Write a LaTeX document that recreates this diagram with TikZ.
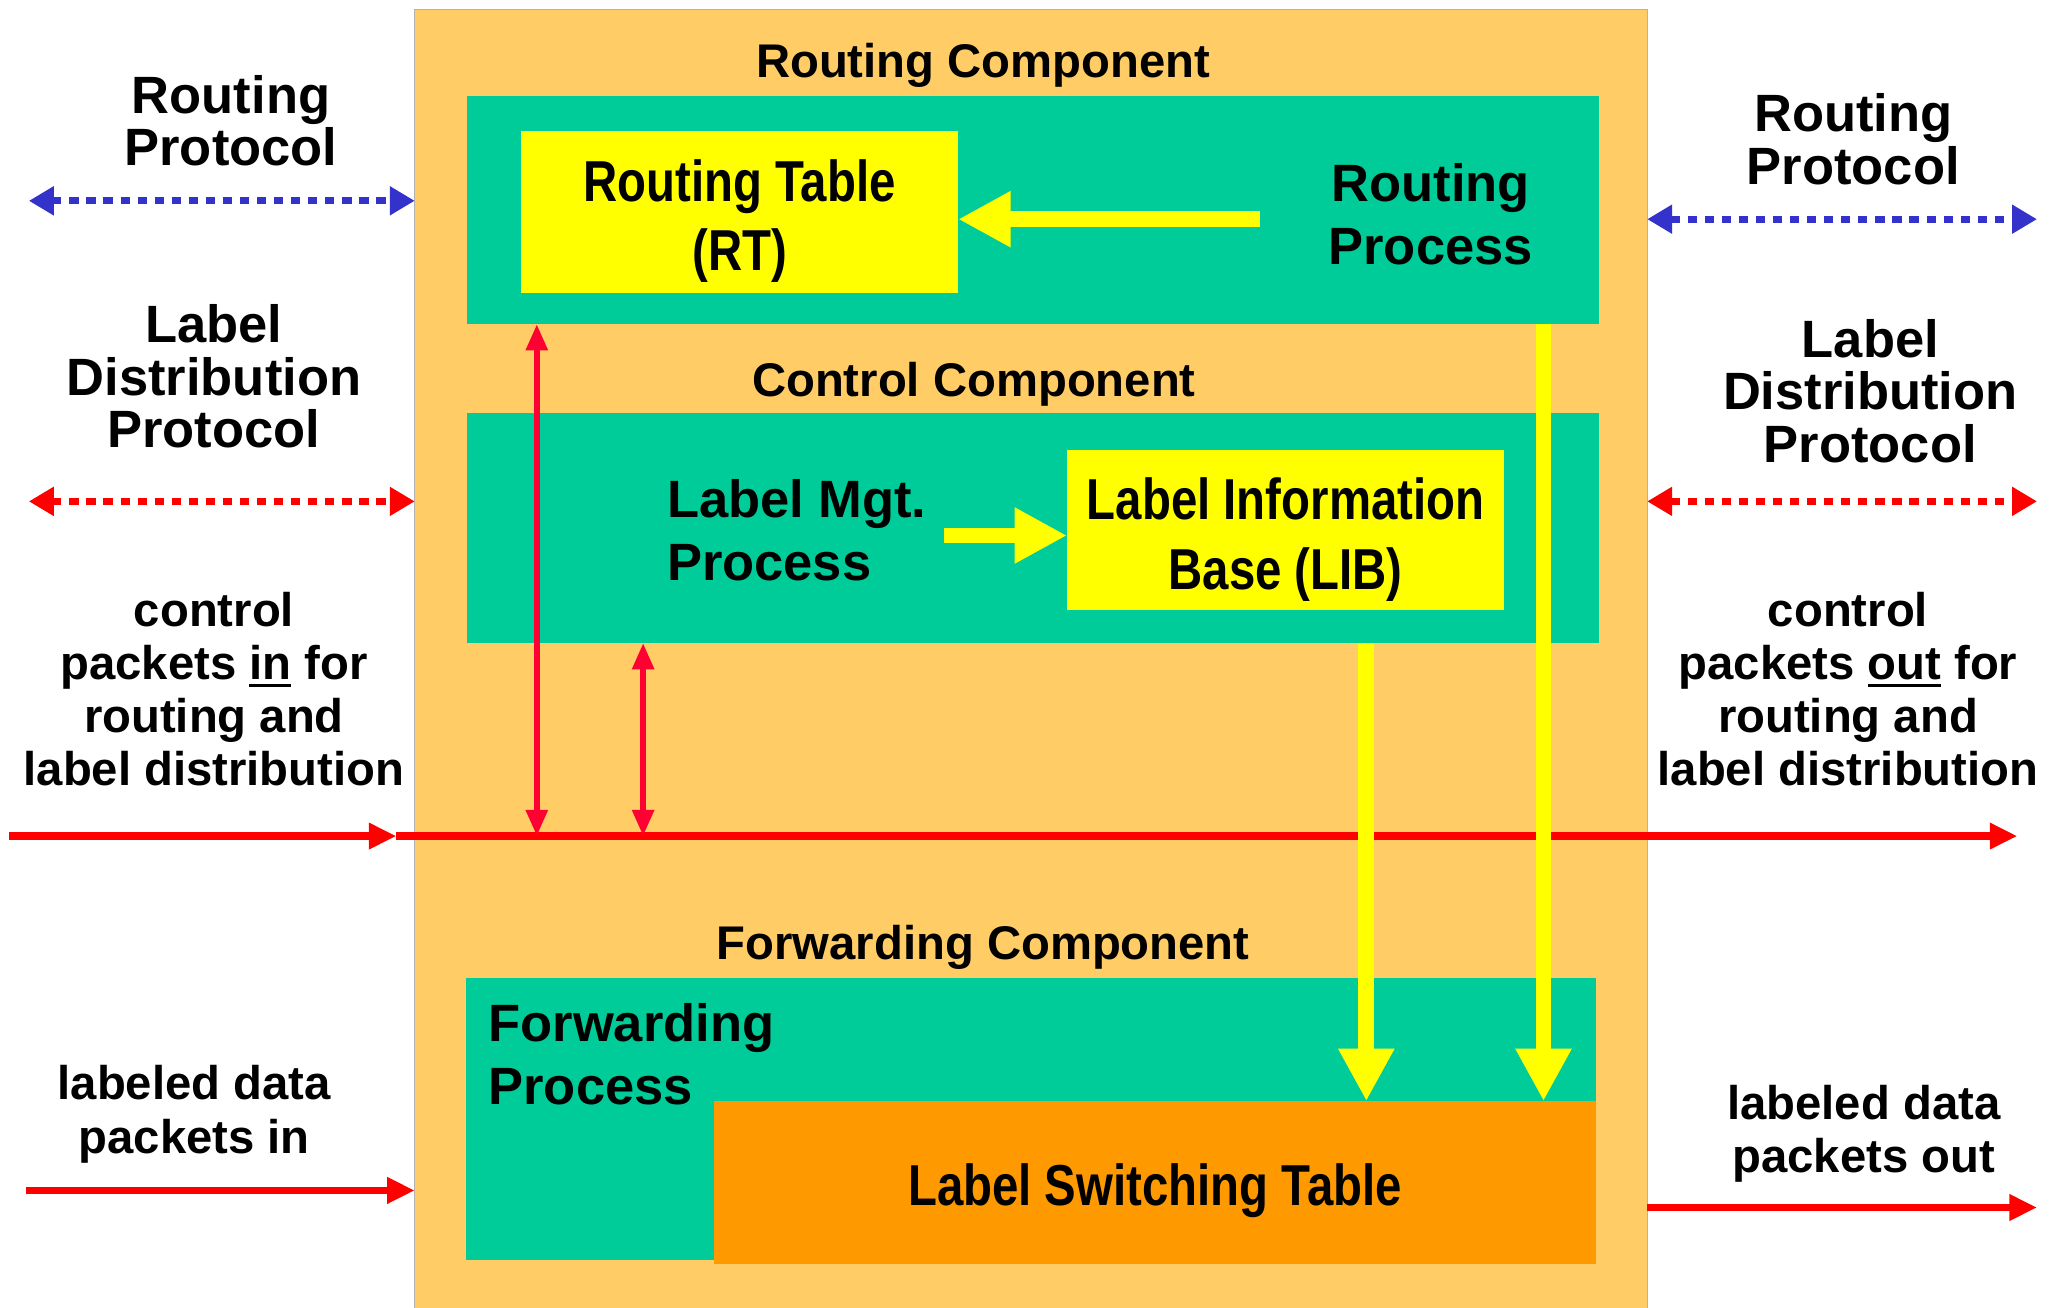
\documentclass[tikz,border=0pt]{standalone}
\usepackage{fontspec}
\setmainfont{Liberation Sans}
\newfontfamily\narrowf[FakeStretch=0.82]{Liberation Sans}
\usetikzlibrary{arrows.meta}
\definecolor{mainbg}{HTML}{FFCC66}
\definecolor{tealbox}{HTML}{00CC99}
\definecolor{ylw}{HTML}{FFFF00}
\definecolor{lstor}{HTML}{FF9900}
\definecolor{redl}{HTML}{FF0000}
\definecolor{redv}{HTML}{FF0033}
\definecolor{bluel}{HTML}{3333CC}
\newcommand\myul[1]{\setbox0\hbox{#1}\rlap{\rule[-6pt]{\wd0}{2.6pt}}\box0\relax}
\newcommand\tstrut{\rule{0pt}{46pt}}
\tikzset{
  box/.style={inner sep=0pt, outer sep=0pt, anchor=north west},
  big/.style={font=\bfseries\fontsize{40}{40}\selectfont, align=center, inner sep=0pt},
  mid/.style={font=\bfseries\fontsize{36}{40.5}\selectfont, align=center, inner sep=0pt},
  tbl/.style={font=\narrowf\bfseries\fontsize{44}{53}\selectfont, align=center},
  yarrow/.style={draw=ylw, line width=12pt, -{Triangle[width=40pt,length=40pt]}},
  rv/.style={draw=redv, line width=4.5pt, {Triangle[width=16pt,length=20pt]}-{Triangle[width=16pt,length=20pt]}},
  rh/.style={draw=redl, line width=5.5pt, -{Triangle[width=19pt,length=21pt]}},
  dotarrow/.style={line width=5.5pt, dash pattern=on 7pt off 6pt,
     {Triangle[width=21pt,length=19pt]}-{Triangle[width=21pt,length=19pt]}},
}
\begin{document}
\begin{tikzpicture}[x=1pt,y=-1pt]
\fill[white] (0,0) rectangle (1568,996);
\useasboundingbox (0,0) rectangle (1568,996);

% main router box
\node[box, fill=mainbg, draw=black!30, line width=0.8pt, minimum width=939pt, minimum height=1000pt] (main) at (316,7) {};

% routing component
\node[mid] (rcl) at (749,50) {Routing Component};
\node[box, fill=tealbox, minimum width=862pt, minimum height=174pt] (rbox) at (356,73) {};
\node[box, fill=ylw, tbl, minimum width=333pt, minimum height=123pt] (rt) at (397,100) {\tstrut Routing Table\\(RT)};
\node[big] (rp) at (1090,163) {Routing\\[8pt]Process};

% control component
\node[mid] (ccl) at (742,293) {Control Component};
\node[box, fill=tealbox, minimum width=862pt, minimum height=175pt] (ctrl) at (356,315) {};
\node[box, fill=ylw, tbl, minimum width=333pt, minimum height=122pt] (lib) at (813,343) {\tstrut Label Information\\Base (LIB)};
\node[big, align=left, anchor=west] (lmp) at (508,404) {Label Mgt.\\[8pt]Process};

% forwarding component
\node[mid] (fcl) at (749,722) {Forwarding Component};
\node[box, fill=tealbox, minimum width=861pt, minimum height=215pt] (fwd) at (355,745) {};
\node[box, fill=lstor, tbl, minimum width=672pt, minimum height=124pt] (lst) at (544,839) {\rule{0pt}{45pt}Label Switching Table};
\node[big, align=left, anchor=west] (fp) at (372,803) {Forwarding\\[8pt]Process};

% yellow internal arrows
\coordinate (rpt) at (960,167);
\draw[yarrow] (rpt) -- (rt.east |- rpt);
\coordinate (lmt) at (719,408);
\draw[yarrow] (lmt) -- (lib.west |- lmt);

% red control bus
\coordinate (inL) at (7,637);
\coordinate (busL) at (302,637);
\coordinate (busR) at (1537,637);
\draw[rh] (inL) -- (busL);
\draw[rh] (busL) -- (busR);
\coordinate (b1) at (409,637);
\coordinate (b2) at (490,637);
\draw[rv] (rbox.south -| b1) -- (b1);
\draw[rv] (ctrl.south -| b2) -- (b2);

% yellow vertical arrows to label switching table
\coordinate (y1) at (1041,490);
\coordinate (y2) at (1176,247);
\draw[yarrow] (y1) -- (y1 |- lst.north);
\draw[yarrow] (y2) -- (y2 |- lst.north);

% left side labels and arrows
\node[big] (lrp) at (176,92) {Routing\\Protocol};
\coordinate (lrpA) at (22,153);
\draw[dotarrow, bluel] (lrpA) -- (main.west |- lrpA);
\node[big] (lldp) at (163,287) {Label\\Distribution\\Protocol};
\coordinate (lldA) at (22,382);
\draw[dotarrow, redl] (lldA) -- (main.west |- lldA);
\node[mid] (lcp) at (163,525) {control\\packets \myul{in} for\\routing and\\label distribution};
\node[mid] (ldp) at (148,849) {labeled data\\packets in};
\coordinate (ldA) at (20,907);
\draw[rh] (ldA) -- (main.west |- ldA);

% right side labels and arrows
\node[big] (rrp) at (1412,106) {Routing\\Protocol};
\coordinate (rrpA) at (1552,167);
\draw[dotarrow, bluel] (main.east |- rrpA) -- (rrpA);
\node[big] (rldp) at (1425,298) {Label\\Distribution\\Protocol};
\coordinate (rldA) at (1552,382);
\draw[dotarrow, redl] (main.east |- rldA) -- (rldA);
\node[mid] (rcp) at (1408,525) {control\\packets \myul{out} for\\routing and\\label distribution};
\node[mid] (rdp) at (1420,864) {labeled data\\packets out};
\coordinate (rdA) at (1552,920);
\draw[rh] (main.east |- rdA) -- (rdA);
\end{tikzpicture}
\end{document}
